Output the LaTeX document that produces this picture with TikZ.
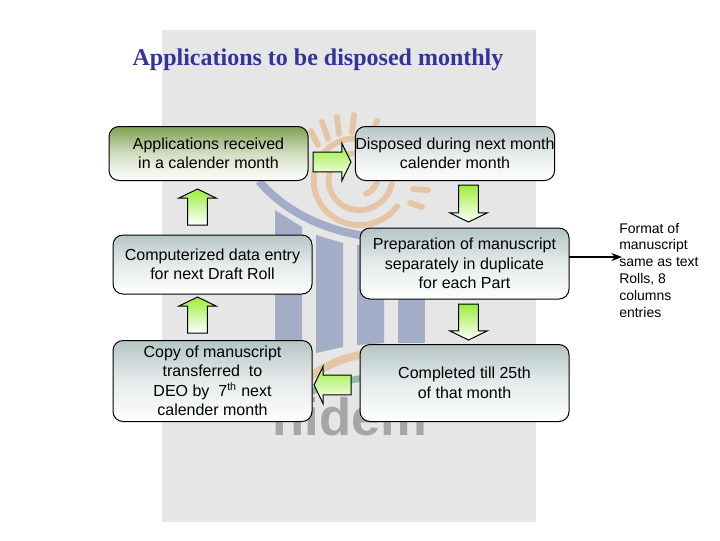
\documentclass[tikz,border=0pt]{standalone}
\usepackage{fontspec}
\setmainfont{Liberation Sans}
\newfontfamily\titlefont{Liberation Serif}
\usepackage{tikz}
\usetikzlibrary{arrows.meta, shapes.arrows}
\definecolor{titleblue}{HTML}{333399}
\definecolor{panelgray}{HTML}{E6E6E6}
\definecolor{logotan}{HTML}{E5C6A4}
\definecolor{logoblue}{HTML}{A3ADC8}
\definecolor{logoteal}{HTML}{8FB8A8}
\definecolor{logogray}{HTML}{A6A6A6}
\definecolor{boxtop}{HTML}{B5C5C5}
\definecolor{boxgreen}{HTML}{7FA050}
\definecolor{arrowlime}{HTML}{9BEE3A}

\begin{document}
\begin{tikzpicture}[x=0.75pt, y=-0.75pt,
        >=Stealth,
        box/.style={draw, rounded corners=7.5pt, align=center, inner sep=0pt, outer sep=0pt,
                     top color=boxtop, bottom color=white, middle color=boxtop!35, line width=0.75pt,
                     font=\fontsize{12}{14.6}\selectfont},
        blockarr/.style={draw, single arrow, anchor=tip, inner sep=0pt, outer sep=0pt,
                     single arrow head extend=6.75pt,
                     single arrow tip angle=128, line width=0.75pt,
                     top color=arrowlime, bottom color=white},
        logoray/.style={logotan, line width=4.4pt, line cap=round},
    ]
    \useasboundingbox (0,0) rectangle (720,540);

    % ---- Panel and logo behind the boxes ----
    \fill[panelgray] (162,30) rectangle (536,522);
    \fill[logoblue] (275,210) -- (302,227) -- (302,350) -- (275,357) -- cycle;
    \fill[logoblue] (316,235) -- (343,243) -- (343,347) -- (316,353) -- cycle;
    \fill[logoblue] (357,245) -- (384,248) -- (384,343) -- (357,345) -- cycle;
    \fill[logoblue] (398,248) -- (425,248) -- (425,343) -- (398,343) -- cycle;
    \draw[logoblue, line width=6pt] (259,181) .. controls (285,212) and (325,230) .. (365,236);
    \draw[logotan, line width=6pt] (300,384) .. controls (320,368) and (340,358) .. (365,354);
    \draw[logoteal, line width=5pt] (300,396) .. controls (320,388) and (340,381) .. (365,378);
    \draw[logotan, line width=4.4pt, line cap=round, smooth]
        plot[domain=300:1045, samples=120, variable=\t]
        ({357+(5.75+\t/24)*cos(\t)}, {178-(5.75+\t/24)*sin(\t)});
    \draw[logoray] (311,131) -- (318,145);
    \draw[logoray] (322,122) -- (328,139);
    \draw[logoray] (337,117) -- (339,134);
    \draw[logoray] (354,115) -- (352,132);
    \draw[logoray] (377,121) -- (372,135);
    \draw[logoray] (413,189) -- (428,190);
    \draw[logoray] (410,203) -- (422,207);
    \node[logogray, font=\fontsize{39.5}{39.5}\selectfont\bfseries, anchor=base west, inner sep=0pt]
        (logotext) at (272,435) {nidem};

    % ---- Title ----
    \node[titleblue, font=\titlefont\fontsize{18}{20}\selectfont\bfseries, anchor=center, inner sep=0pt]
        (title) at (318,60) {Applications to be disposed monthly};

    % ---- Six stages ----
    \node[box, top color=boxgreen, middle color=boxgreen!35, minimum width=149.25pt, minimum height=40.5pt] (received) at (208.5,153.5)
        {Applications received\\in a calender month};
    \node[box, minimum width=148.5pt, minimum height=40.5pt] (disposed) at (455,153.5)
        {Disposed during next month\\calender month};
    \node[box, minimum width=149.25pt, minimum height=44.25pt] (entry) at (212.5,264.5)
        {Computerized data entry\\for next Draft Roll};
    \node[box, minimum width=156.75pt, minimum height=53.25pt] (manuscript) at (464.5,263.5)
        {Preparation of manuscript\\separately in duplicate\\for each Part};
    \node[box, minimum width=149.25pt, minimum height=60.75pt] (copy) at (212.5,381)
        {Copy of manuscript\\transferred\ \ to\\DEO by\ \ 7\textsuperscript{th} next\\calender month};
    \node[box, minimum width=156.75pt, minimum height=57.75pt] (completed) at (464.5,383)
        {Completed till 25th\\of that month};

    % ---- Block arrows between stages ----
    \node[blockarr, shape border rotate=0, minimum height=28.5pt] (arrright) at (351,162) {\phantom{\rule{14pt}{14pt}}};
    \node[blockarr, shape border rotate=90, minimum height=27pt] (arrupa) at (197.5,189) {\phantom{\rule{14pt}{14pt}}};
    \node[blockarr, shape border rotate=90, minimum height=27pt] (arrupb) at (197.5,297) {\phantom{\rule{14pt}{14pt}}};
    \node[blockarr, shape border rotate=270, minimum height=27.75pt] (arrdowna) at (468.5,222) {\phantom{\rule{14pt}{14pt}}};
    \node[blockarr, shape border rotate=270, minimum height=27pt] (arrdownb) at (468.5,340) {\phantom{\rule{14pt}{14pt}}};
    \node[blockarr, shape border rotate=180, minimum height=27.75pt] (arrleft) at (314,385) {\phantom{\rule{14pt}{14pt}}};

    % ---- Side note ----
    \coordinate (noteend) at (622,257);
    \node[font=\fontsize{10.5}{12.6}\selectfont, align=left, anchor=west, inner sep=0pt] (note) at (619,270)
        {Format of\\manuscript\\same as text\\Rolls, 8\\columns\\entries};
    \draw[->, line width=1.1pt] (manuscript.east |- noteend) -- (noteend);
\end{tikzpicture}
\end{document}
